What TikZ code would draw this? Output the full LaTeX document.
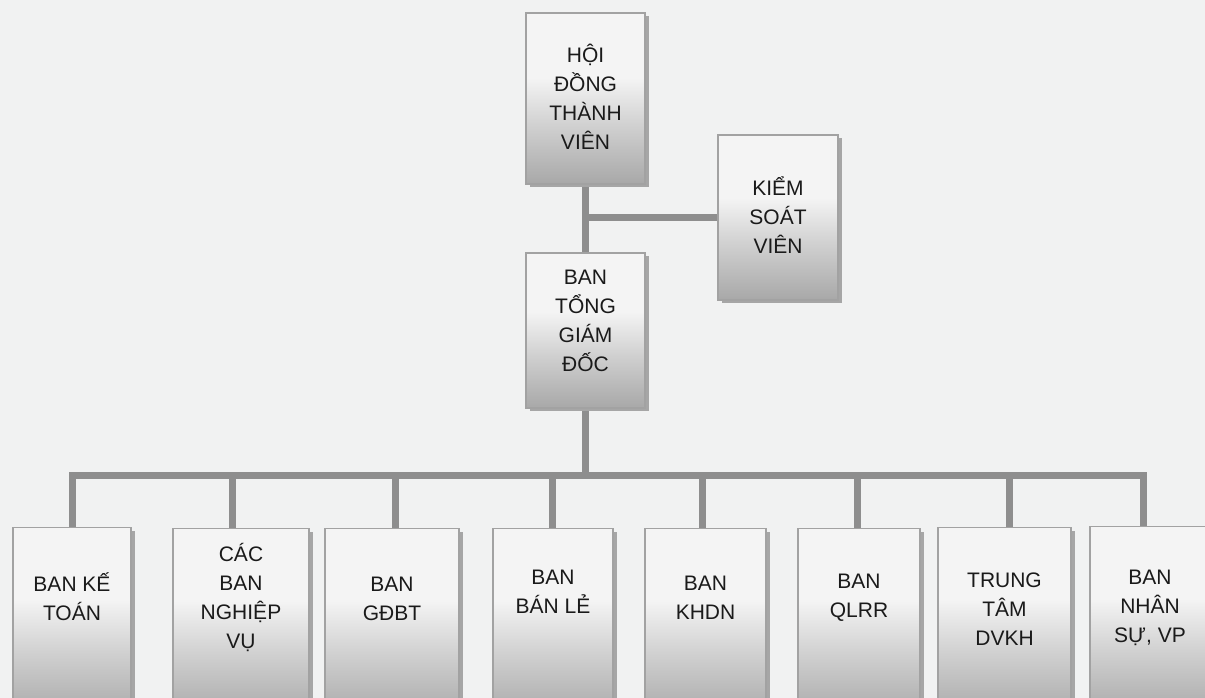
\documentclass[tikz,border=0pt]{standalone}
\usepackage{fontspec}
\setmainfont{Liberation Sans}
\usetikzlibrary{shadows,calc}
\pgfdeclarelayer{paper}
\pgfdeclarelayer{links}
\pgfsetlayers{paper,links,main}
\definecolor{bgcol}{HTML}{F1F2F2}
\definecolor{linecol}{HTML}{8E8E8E}
\definecolor{boxline}{HTML}{A2A2A2}
\definecolor{txtcol}{HTML}{1A1A1A}
\definecolor{shdark}{HTML}{A8A8A8}
\definecolor{shmid}{HTML}{D0D0D0}
\definecolor{shlight}{HTML}{F4F4F4}
\pgfdeclareverticalshading{orgshade}{100bp}{color(0bp)=(shdark); color(25bp)=(shdark); color(42bp)=(shmid); color(56bp)=(shlight); color(75bp)=(shlight); color(100bp)=(shlight)}
\tikzset{
  orgbox/.style={rectangle, draw=boxline, line width=1.2pt, shading=orgshade,
    general shadow={shadow xshift=4pt, shadow yshift=-3pt, fill=black!35}},
  lbl/.style={align=center, text=txtcol, font=\fontsize{21pt}{29pt}\selectfont, inner sep=0pt},
  conn/.style={draw=linecol, line width=7pt, line cap=rect}
}
\begin{document}
\begin{tikzpicture}[x=1pt,y=-1pt]
\useasboundingbox (0,0) rectangle (1205,698);
\clip (0,0) rectangle (1205,698);
\begin{pgfonlayer}{paper}
\fill[bgcol] (0,0) rectangle (1205,698);
\end{pgfonlayer}

% top boxes
\node[orgbox, minimum width=119pt, minimum height=171pt] (hdtv) at (585.5,98.5) {};
\node[orgbox, minimum width=120pt, minimum height=165pt] (ksv) at (778,217.5) {};
\node[orgbox, minimum width=119pt, minimum height=155pt] (btgd) at (585.5,330.5) {};
\node[lbl] (thdtv) at ($(hdtv)+(0,-1.5)$) {HỘI\\ĐỒNG\\THÀNH\\VIÊN};
\node[lbl] (tksv) at ($(ksv)+(0,-2.5)$) {KIỂM\\SOÁT\\VIÊN};
\node[lbl] (tbtgd) at ($(btgd)+(0,-10)$) {BAN\\TỔNG\\GIÁM\\ĐỐC};

% bottom boxes
\node[orgbox, anchor=north, minimum width=118pt, minimum height=190pt] (b1) at (72,527) {};
\node[orgbox, anchor=north, minimum width=136pt, minimum height=190pt] (b2) at (241,528) {};
\node[orgbox, anchor=north, minimum width=134pt, minimum height=190pt] (b3) at (392,528) {};
\node[orgbox, anchor=north, minimum width=120pt, minimum height=190pt] (b4) at (553,528) {};
\node[orgbox, anchor=north, minimum width=121pt, minimum height=190pt] (b5) at (705.5,528) {};
\node[orgbox, anchor=north, minimum width=122pt, minimum height=190pt] (b6) at (859,528) {};
\node[orgbox, anchor=north, minimum width=133pt, minimum height=190pt] (b7) at (1004.5,527) {};
\node[orgbox, anchor=north, minimum width=120pt, minimum height=190pt] (b8) at (1150,526) {};

\node[lbl] (t1) at ($(b1.north)+(0,70)$) {BAN KẾ\\TOÁN};
\node[lbl] (t2) at ($(b2.north)+(0,69)$) {CÁC\\BAN\\NGHIỆP\\VỤ};
\node[lbl] (t3) at ($(b3.north)+(0,71)$) {BAN\\GĐBT};
\node[lbl] (t4) at ($(b4.north)+(0,64)$) {BAN\\BÁN LẺ};
\node[lbl] (t5) at ($(b5.north)+(0,70)$) {BAN\\KHDN};
\node[lbl] (t6) at ($(b6.north)+(0,70)$) {BAN\\QLRR};
\node[lbl] (t7) at ($(b7.north)+(0,82)$) {TRUNG\\TÂM\\DVKH};
\node[lbl] (t8) at ($(b8.north)+(0,82)$) {BAN\\NHÂN\\SỰ, VP};

% bar coordinates
\coordinate (bar) at (585.5,475);
\coordinate (d1) at (72,475);
\coordinate (d2) at (232,475);
\coordinate (d3) at (395,475);
\coordinate (d4) at (552,475);
\coordinate (d5) at (702,475);
\coordinate (d6) at (857,475);
\coordinate (d7) at (1009,475);
\coordinate (d8) at (1143,475);

% connectors (behind boxes)
\begin{pgfonlayer}{links}
\draw[conn] (hdtv.south) -- (btgd.north);
\draw[conn] (ksv.west) -- (ksv.west -| hdtv.south);
\draw[conn] (btgd.south) -- (bar);
\draw[conn] (d1) -- (d8);
\draw[conn] (d1) -- (d1 |- b1.north);
\draw[conn] (d2) -- (d2 |- b2.north);
\draw[conn] (d3) -- (d3 |- b3.north);
\draw[conn] (d4) -- (d4 |- b4.north);
\draw[conn] (d5) -- (d5 |- b5.north);
\draw[conn] (d6) -- (d6 |- b6.north);
\draw[conn] (d7) -- (d7 |- b7.north);
\draw[conn] (d8) -- (d8 |- b8.north);
\end{pgfonlayer}
\end{tikzpicture}
\end{document}
